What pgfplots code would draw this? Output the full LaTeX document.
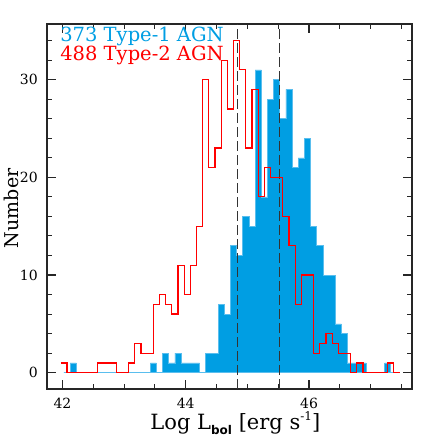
\documentclass[border=0pt]{standalone}
\usepackage{fontspec}
\setmainfont{DejaVu Serif}
\setsansfont{DejaVu Sans}
\usepackage{pgfplots}
\usepackage{pgfplotstable}
\pgfplotsset{compat=1.18}

\definecolor{typeone}{RGB}{0,158,227}
\definecolor{typeoneedge}{RGB}{90,190,238}
\definecolor{typetwo}{RGB}{255,0,0}

% Type-1: left bin edges and counts (bin 0.1 dex)
\pgfplotstableread{
x n
42.025 0
42.125 1
42.225 0
42.325 0
42.425 0
42.525 0
42.625 0
42.725 0
42.825 0
42.925 0
43.025 0
43.125 0
43.225 0
43.325 0
43.425 1
43.525 0
43.625 2
43.725 1
43.825 2
43.925 1
44.025 1
44.125 1
44.225 0
44.325 2
44.425 2
44.525 7
44.625 6
44.725 13
44.825 12
44.925 16
45.025 15
45.125 31
45.225 18
45.325 28
45.425 30
45.525 26
45.625 29
45.725 21
45.825 22
45.925 24
46.025 15
46.125 13
46.225 10
46.325 10
46.425 5
46.525 4
46.625 1
46.725 1
46.825 1
46.925 0
47.025 0
47.125 0
47.225 1
47.325 0
47.425 0
}\typeonetab

% Type-2: left bin edges and counts
\pgfplotstableread{
x n
41.975 1
42.075 0
42.175 0
42.275 0
42.375 0
42.475 0
42.575 1
42.675 1
42.775 1
42.875 0
42.975 0
43.075 1
43.175 3
43.275 2
43.375 2
43.475 7
43.575 8
43.675 7
43.775 6
43.875 11
43.975 8
44.075 11
44.175 15
44.275 30
44.375 21
44.475 23
44.575 32
44.675 27
44.775 34
44.875 31
44.975 23
45.075 29
45.175 18
45.275 21
45.375 20
45.475 20
45.575 16
45.675 13
45.775 7
45.875 10
45.975 10
46.075 2
46.175 3
46.275 4
46.375 3
46.475 2
46.575 2
46.675 0
46.775 1
46.875 0
46.975 0
47.075 0
47.175 0
47.275 1
47.375 0
47.475 0
}\typetwotab

\begin{document}
\begin{tikzpicture}
\begin{axis}[
    scale only axis,
    width=365pt,
    height=365pt,
    xmin=41.75, xmax=47.67,
    ymin=-1.67, ymax=35.7,
    xtick={42,44,46},
    minor xtick={42.5,43,43.5,44.5,45,45.5,46.5,47,47.5},
    ytick={0,10,20,30},
    minor ytick={2,4,6,8,12,14,16,18,22,24,26,28,32,34},
    tick align=inside,
    major tick length=9pt,
    minor tick length=5pt,
    axis line style={line width=1.1pt, black!85},
    every tick/.style={line width=1.1pt, black!85},
    /pgf/number format/assume math mode=true,
    xticklabel style={font=\fontsize{14}{14}\selectfont, anchor=base, yshift=-19pt, inner sep=0pt},
    yticklabel style={font=\fontsize{14}{14}\selectfont, anchor=east, xshift=-9pt, inner sep=0pt},
    xlabel={Log L\raisebox{-0.4ex}{\fontsize{12}{12}\selectfont\sffamily\bfseries bol} [erg s\raisebox{0.85ex}{\fontsize{12}{12}\selectfont -1}]},
    xlabel style={font=\fontsize{21}{21}\selectfont, at={(axis description cs:0.516,-0.112)}, anchor=base},
    ylabel={Number},
    ylabel style={font=\fontsize{19}{19}\selectfont, at={(axis description cs:-0.078,0.495)}, anchor=base},
]
\addplot[const plot mark left, fill=typeone, draw=typeoneedge, line width=0.6pt] table[x=x, y=n] {\typeonetab} \closedcycle;
\addplot[black!80, line width=1pt, dash pattern=on 10pt off 4pt] coordinates {(44.84,-1.67) (44.84,35.7)};
\addplot[black!80, line width=1pt, dash pattern=on 10pt off 4pt] coordinates {(45.52,-1.67) (45.52,35.7)};
\addplot[const plot mark left, draw=typetwo, line width=1.2pt] table[x=x, y=n] {\typetwotab};
\node[anchor=base west, text=typeone, inner sep=0pt, font=\fontsize{19.5}{20}\selectfont] at (rel axis cs:0.036,0.953) {373 Type-1 AGN};
\node[anchor=base west, text=typetwo, inner sep=0pt, font=\fontsize{19.5}{20}\selectfont] at (rel axis cs:0.036,0.899) {488 Type-2 AGN};
\end{axis}
\pgfresetboundingbox
\path ([shift={(-47pt,-47pt)}]current axis.south west) rectangle ++(436pt,436pt);
\end{tikzpicture}
\end{document}
